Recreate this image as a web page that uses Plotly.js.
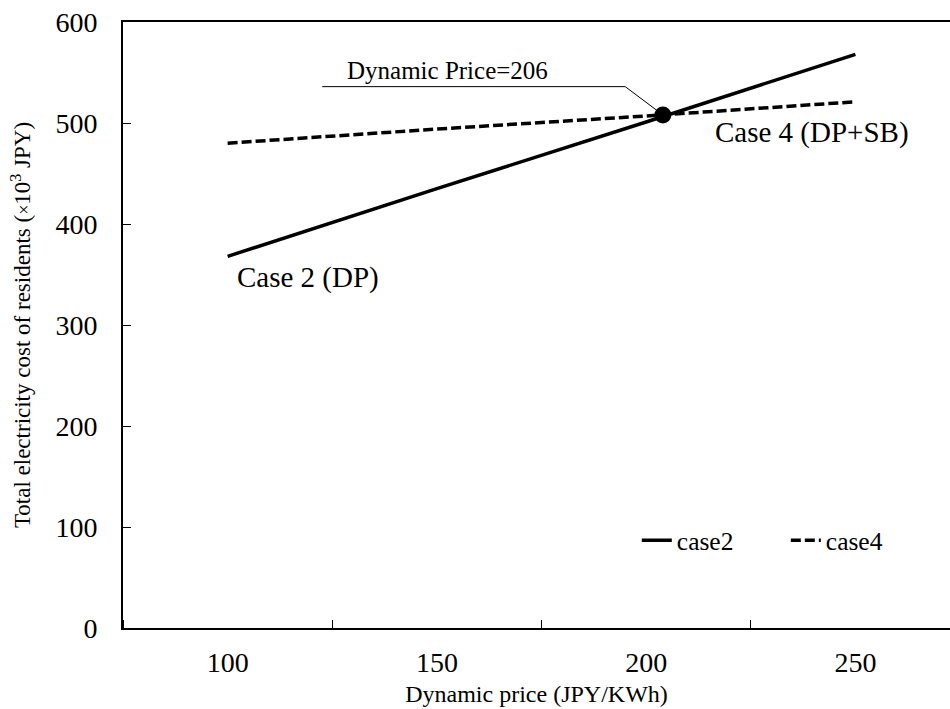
<!DOCTYPE html>
<html>
<head>
<meta charset="utf-8">
<script src="https://cdn.plot.ly/plotly-3.0.1.min.js"></script>
<style>html,body{margin:0;padding:0;background:#fff;overflow:hidden;}#chart{width:950px;height:709px;}</style>
</head>
<body>
<div id="chart"></div>
<script>
// Data
const prices = [100, 150, 200, 250];                 // Dynamic price (JPY/KWh)
const case2 = [368, 435, 501, 568];                  // Case 2 (DP), x10^3 JPY
const case4 = [480, 494, 507, 521];                  // Case 4 (DP+SB), x10^3 JPY
const crossX = [204];                                // marked intersection
const crossY = [508];
const tickLabels = ['100', '150', '200', '250'];

const FONT = 'Liberation Serif, Times New Roman, serif';

const traces = [
  {x: prices, y: case2, name: 'case2', mode: 'lines', type: 'scatter',
   line: {color: '#000', width: 3.5}},
  {x: prices, y: case4, name: 'case4', mode: 'lines', type: 'scatter',
   line: {color: '#000', width: 3.5, dash: '10px,4px'}},
  {x: crossX, y: crossY, mode: 'markers', type: 'scatter', showlegend: false,
   marker: {color: '#000', size: 17}}
];

const layout = {
  width: 950, height: 709,
  margin: {l: 123, r: 0, t: 22, b: 81, pad: 0},
  paper_bgcolor: '#fff', plot_bgcolor: '#fff',
  font: {family: FONT, color: '#000', size: 26},
  showlegend: true,
  legend: {orientation: 'h', x: 0.6213, y: 0.144, xanchor: 'left', yanchor: 'middle',
           font: {family: FONT, size: 25.5, color: '#000'}, bgcolor: 'rgba(0,0,0,0)',
           entrywidth: 104, tracegroupgap: 0},
  xaxis: {
    range: [75, 272.6], showgrid: false, zeroline: false,
    showline: true, linecolor: '#000', linewidth: 2, mirror: true,
    tickmode: 'array', tickvals: prices, ticktext: tickLabels, ticks: '',
    ticklabelstandoff: 8,
    tickfont: {family: FONT, size: 28, color: '#000'},
    minor: {tick0: 75, dtick: 50, ticks: 'inside', ticklen: 8, tickwidth: 1, tickcolor: '#000', showgrid: false},
    title: {text: 'Dynamic price (JPY/KWh)', font: {family: FONT, size: 24, color: '#000'}, standoff: 9}
  },
  yaxis: {
    range: [0, 600], showgrid: false, zeroline: false,
    showline: true, linecolor: '#000', linewidth: 2, mirror: false,
    tickmode: 'array', tickvals: [0, 100, 200, 300, 400, 500, 600],
    ticks: 'inside', ticklen: 8, tickwidth: 1, tickcolor: '#000',
    ticklabelstandoff: 18,
    tickfont: {family: FONT, size: 28, color: '#000'},
    title: {text: 'Total electricity cost of residents (<span style="font-size:18px">×</span>10<sup>3</sup> JPY)',
            font: {family: FONT, size: 23, color: '#000'}, standoff: 18}
  },
  annotations: [
    {x: 119.2, y: 347, xref: 'x', yref: 'y', text: 'Case 2 (DP)', showarrow: false,
     font: {family: FONT, size: 29, color: '#000'}, xanchor: 'center', yanchor: 'middle'},
    {x: 239.6, y: 491, xref: 'x', yref: 'y', text: 'Case 4 (DP+SB)', showarrow: false,
     font: {family: FONT, size: 29, color: '#000'}, xanchor: 'center', yanchor: 'middle'},
    {x: 152.6, y: 552, xref: 'x', yref: 'y', text: 'Dynamic Price=206', showarrow: false,
     font: {family: FONT, size: 25, color: '#000'}, xanchor: 'center', yanchor: 'middle'}
  ],
  shapes: [
    {type: 'path', xref: 'x', yref: 'y',
     path: 'M 122.6 536 L 195 536 L ' + crossX[0] + ' ' + crossY[0],
     line: {color: '#000', width: 1}}
  ]
};

Plotly.newPlot('chart', traces, layout, {displayModeBar: false, staticPlot: true});
</script>
</body>
</html>
